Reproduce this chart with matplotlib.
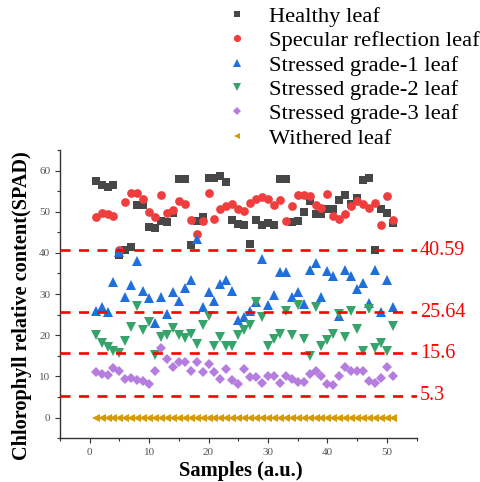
import numpy as np
import matplotlib
matplotlib.use('Agg')
import matplotlib.pyplot as plt
import matplotlib.transforms as mtransforms

plt.rcParams['font.family'] = ['Liberation Serif', 'DejaVu Serif']

samples = np.arange(1, 52)

healthy = [57.5, 56.6, 56.0, 56.4, 39.6, 40.6, 41.4, 51.6, 51.6, 46.3,
           46.0, 47.7, 47.4, 49.6, 57.9, 58.0, 41.8, 47.7, 48.6, 58.2,
           58.2, 58.7, 57.2, 48.0, 46.9, 46.7, 42.2, 47.9, 46.7, 47.2,
           46.7, 57.9, 58.0, 47.5, 47.7, 50.0, 52.6, 49.4, 49.4, 50.6,
           50.7, 52.8, 54.0, 51.8, 53.3, 57.6, 58.3, 40.6, 50.6, 49.8,
           47.3]
specular = [48.6, 49.8, 49.5, 48.9, 40.6, 52.4, 54.5, 54.5, 53.0, 50.0,
            48.7, 54.0, 49.8, 50.3, 52.6, 51.8, 48.1, 44.5, 47.7, 54.5,
            48.3, 50.7, 51.5, 51.8, 50.6, 50.2, 52.2, 53.0, 53.6, 53.2,
            51.6, 52.8, 47.7, 51.5, 54.0, 54.1, 53.8, 51.6, 51.0, 54.4,
            48.9, 48.3, 49.4, 51.4, 52.6, 51.8, 50.8, 52.2, 46.8, 53.8,
            47.9]
grade1 = [25.8, 26.8, 25.6, 32.9, 40.2, 29.3, 32.1, 38.1, 30.8, 29.0,
          23.1, 29.2, 25.2, 30.5, 28.4, 31.4, 33.5, 43.3, 26.8, 30.4,
          28.4, 32.5, 33.4, 30.7, 23.7, 24.4, 25.8, 28.0, 38.6, 27.3,
          29.9, 35.3, 35.3, 29.2, 30.4, 27.6, 35.9, 37.5, 29.2, 35.7,
          34.4, 24.8, 35.9, 34.3, 31.3, 32.7, 27.9, 35.9, 25.6, 33.4,
          26.8]
grade2 = [20.1, 18.1, 17.1, 16.2, 15.6, 18.7, 22.1, 27.0, 21.4, 23.2,
          15.1, 19.5, 20.0, 21.7, 20.0, 19.3, 20.3, 17.9, 22.4, 24.8,
          17.5, 19.5, 17.3, 17.4, 20.0, 21.2, 22.4, 28.2, 24.4, 17.5,
          19.2, 20.4, 26.0, 20.1, 27.4, 19.2, 15.0, 26.8, 17.5, 18.9,
          20.3, 25.2, 19.6, 25.8, 21.6, 16.3, 26.5, 16.9, 18.1, 16.1,
          22.2]
grade3 = [11.0, 10.5, 10.4, 12.0, 11.4, 9.4, 9.6, 9.2, 8.8, 8.2,
          11.4, 17.0, 14.3, 12.3, 13.6, 13.6, 11.4, 13.5, 11.2, 13.0,
          11.2, 9.4, 11.9, 9.2, 8.1, 11.9, 9.8, 9.8, 8.5, 10.0,
          10.2, 8.4, 10.0, 9.4, 8.6, 8.6, 10.6, 11.4, 10.0, 8.2,
          7.9, 10.2, 12.2, 11.4, 11.4, 11.4, 8.8, 8.4, 9.6, 12.4,
          10.0]
withered = [0.0] * 51

thresholds = [40.59, 25.64, 15.6, 5.3]
threshold_labels = ['40.59', '25.64', '15.6', '5.3']

series = [
    ('Healthy leaf', healthy, 's', '#474747', 5.8),
    ('Specular reflection leaf', specular, 'o', '#f03e3e', 6.3),
    ('Stressed grade-1 leaf', grade1, '^', '#1f6fdc', 6.8),
    ('Stressed grade-2 leaf', grade2, 'v', '#36a46a', 6.8),
    ('Stressed grade-3 leaf', grade3, 'D', '#b67de0', 4.8),
    ('Withered leaf', withered, '<', '#d39c08', 6.0),
]

fig = plt.figure(figsize=(4.81, 4.82), dpi=100)
ax = fig.add_axes([0.1247, 0.0907, 0.7413, 0.5983])

for name, vals, mk, col, ms in series:
    ax.plot(samples, vals, linestyle='none', marker=mk, color=col,
            markersize=ms, markeredgewidth=0, label=name)

# threshold lines with their values written past the right end
trans = mtransforms.blended_transform_factory(ax.transAxes, ax.transData)
for val, lab in zip(thresholds, threshold_labels):
    ax.axhline(val, color='#ff0000', lw=1.9, dashes=(3.8, 3.2), zorder=5)
    ax.text(1.01, val, lab, transform=trans, color='#ff0000',
            fontsize=14.5, va='center', ha='left', clip_on=False)

ax.set_xlim(-5, 55)
ax.set_ylim(-5, 65)
ax.set_xticks(np.arange(0, 51, 10))
ax.set_xticks(np.arange(-5, 56, 5), minor=True)
ax.set_yticks(np.arange(0, 61, 10))
ax.set_yticks(np.arange(-5, 66, 5), minor=True)
ax.tick_params(which='both', direction='out', colors='#333333',
               labelsize=8, width=0.8)
ax.tick_params(which='major', length=3.5)
ax.tick_params(which='minor', length=2)
ax.tick_params(axis='both', labelcolor='#555555')

for side in ('top', 'right'):
    ax.spines[side].set_visible(False)
for side in ('left', 'bottom'):
    ax.spines[side].set_color('#333333')
    ax.spines[side].set_linewidth(1.0)

ax.set_xlabel('Samples (a.u.)', fontsize=14.8, fontweight='bold')
ax.set_ylabel('Chlorophyll relative content(SPAD)', fontsize=14.6,
              fontweight='bold')
ax.xaxis.set_label_coords(0.506, -0.08)
ax.yaxis.set_label_coords(-0.079, 0.46)

fig.legend(loc='upper left', bbox_to_anchor=(0.436, 1.02),
           frameon=False, fontsize=16.2, handlelength=1.0,
           handletextpad=0.95, labelspacing=0.16, markerscale=0.82,
           borderpad=0.2)

fig.savefig('out.png', dpi=100)
